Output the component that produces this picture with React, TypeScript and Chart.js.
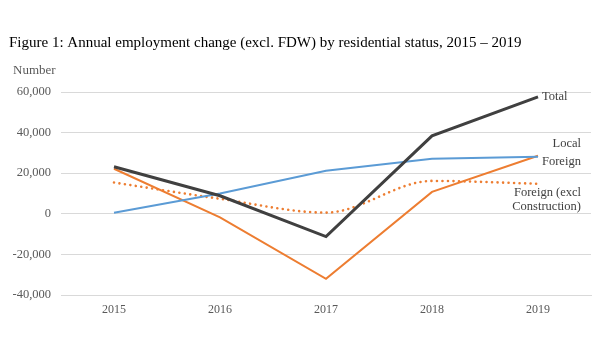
import React, { useEffect, useRef } from "react";
import { Chart, registerables } from "chart.js";

Chart.register(...registerables);

const years = ["2015", "2016", "2017", "2018", "2019"];
const total = [23200, 8900, -11200, 38400, 57600];
const local = [500, 10000, 21200, 27100, 28100];
const foreign = [22200, -1800, -32000, 10800, 28600];
const foreignExclConstruction = [15400, 7400, 600, 16200, 14800];

const title = "Figure 1: Annual employment change (excl. FDW) by residential status, 2015 \u2013 2019";
const yAxisTitle = "Number";

const SERIF = "'Liberation Serif', 'Times New Roman', serif";

const labelPlugin = {
  id: "labels",
  afterDraw(chart: any) {
    const ctx = chart.ctx;
    const x = chart.scales.x;
    const y = chart.scales.y;
    const last = years.length - 1;
    const px = x.getPixelForValue(last);
    ctx.save();
    ctx.font = `15px ${SERIF}`;
    ctx.fillStyle = "#000";
    ctx.textBaseline = "middle";
    ctx.textAlign = "left";
    ctx.fillText(title, 9, 43);
    ctx.font = `13px ${SERIF}`;
    ctx.fillStyle = "#595959";
    ctx.fillText(yAxisTitle, 13, 71);
    ctx.fillStyle = "#404040";
    ctx.font = `12.5px ${SERIF}`;
    ctx.textAlign = "left";
    ctx.fillText("Total", px + 4, y.getPixelForValue(total[last]));
    ctx.fillText("Foreign", px + 4, y.getPixelForValue(foreign[last]) + 6);
    ctx.textAlign = "right";
    ctx.fillText("Local", px + 43, y.getPixelForValue(local[last]) - 13);
    const fy = y.getPixelForValue(foreignExclConstruction[last]);
    ctx.fillText("Foreign (excl", px + 43, fy + 9);
    ctx.fillText("Construction)", px + 43, fy + 23);
    ctx.restore();
  },
};

export default function App() {
  const ref = useRef<HTMLCanvasElement>(null);
  useEffect(() => {
    const chart = new Chart(ref.current!, {
      type: "line",
      data: {
        labels: years,
        datasets: [
          { label: "Total", data: total, borderColor: "#404040", borderWidth: 3, pointRadius: 0, tension: 0 },
          { label: "Local", data: local, borderColor: "#5B9BD5", borderWidth: 2, pointRadius: 0, tension: 0 },
          { label: "Foreign", data: foreign, borderColor: "#ED7D31", borderWidth: 2, pointRadius: 0, tension: 0 },
          {
            label: "Foreign (excl Construction)",
            data: foreignExclConstruction,
            borderColor: "#ED7D31",
            borderWidth: 2.6,
            borderDash: [0.01, 5.5],
            borderCapStyle: "round",
            pointRadius: 0,
            cubicInterpolationMode: "monotone",
          },
        ],
      },
      options: {
        animation: false,
        responsive: false,
        layout: { padding: { left: 0, right: 9, top: 92, bottom: 0 } },
        plugins: { legend: { display: false }, tooltip: { enabled: false } },
        scales: {
          x: {
            offset: true,
            grid: { display: false, drawTicks: false },
            border: { display: true, color: "#d9d9d9" },
            ticks: { font: { family: SERIF, size: 12 }, color: "#595959", padding: 8 },
            afterFit: (s: any) => { s.height = 65; },
          },
          y: {
            min: -40000,
            max: 60000,
            ticks: {
              stepSize: 20000,
              font: { family: SERIF, size: 12.5 },
              color: "#595959",
              padding: 10,
              callback: (v: any) => Number(v).toLocaleString("en-US"),
            },
            grid: { color: "#d9d9d9", drawTicks: false, lineWidth: 1 },
            border: { display: false },
            afterFit: (s: any) => { s.width = 61; },
          },
        },
      },
      plugins: [labelPlugin],
    });
    return () => chart.destroy();
  }, []);
  return (
    <div style={{ position: "absolute", left: 0, top: 0, width: 600, height: 360, background: "#fff" }}>
      <canvas ref={ref} width={600} height={360} />
    </div>
  );
}
